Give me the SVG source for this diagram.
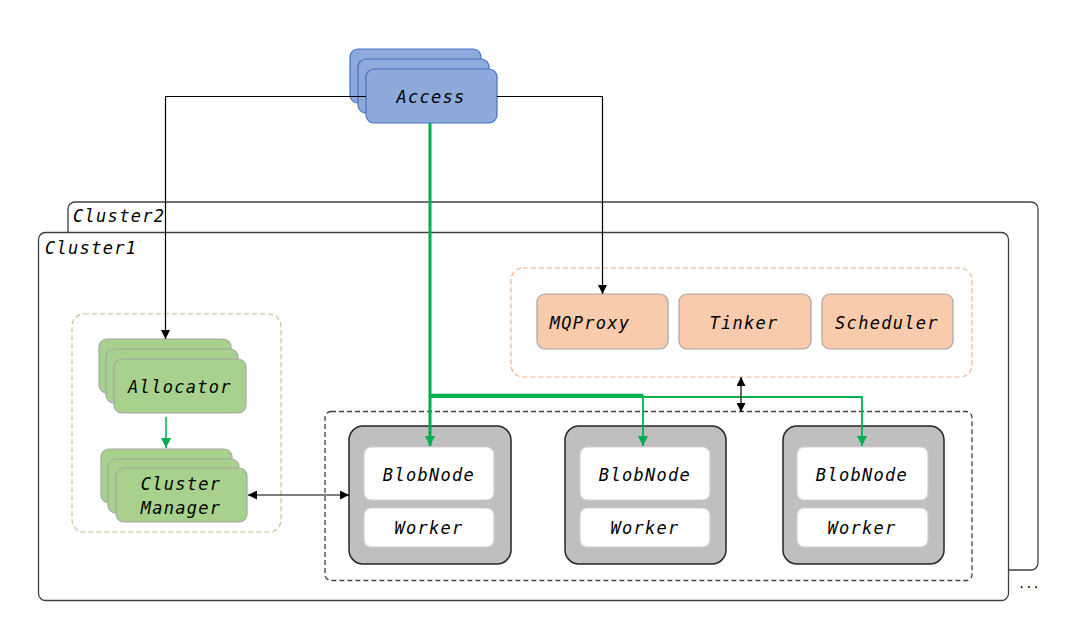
<svg xmlns="http://www.w3.org/2000/svg" width="1081" height="626" viewBox="0 0 1081 626">
<defs>
<marker id="ab" viewBox="0 0 10 10" refX="10" refY="5" markerWidth="9" markerHeight="9" markerUnits="userSpaceOnUse" orient="auto-start-reverse"><path d="M0,0 L10,5 L0,10 z" fill="#000"/></marker>
<marker id="ag" viewBox="0 0 10 10" refX="10" refY="5" markerWidth="10" markerHeight="10" markerUnits="userSpaceOnUse" orient="auto"><path d="M0,0 L10,5 L0,10 z" fill="#00B050"/></marker>
<style>
text{font-family:"DejaVu Sans Mono","Liberation Mono",monospace;font-style:italic;font-size:17px;fill:#000;letter-spacing:1.3px}
.c{text-anchor:middle}
.blue{fill:#8EA9DB;stroke:#4472C4;stroke-width:1.2}
.grn{fill:#A9D18E;stroke:#A6A6A6;stroke-width:1.2}
.org{fill:#F8CBAD;stroke:#A6A6A6;stroke-width:1.2}
.bn{fill:#BFBFBF;stroke:#262626;stroke-width:1.5}
.wh{fill:#fff;stroke:#D0D0D0;stroke-width:1.2}
.cl{fill:#fff;stroke:#404040;stroke-width:1.3}
.blk{fill:none;stroke:#000;stroke-width:1.2}
.gl{fill:none;stroke:#00B050}
</style>
</defs>
<rect width="1081" height="626" fill="#fff"/>
<g id="cluster2"><rect class="cl" x="68" y="202" width="970" height="368" rx="7"/><text x="73" y="222">Cluster2</text></g>
<g id="cluster1"><rect class="cl" x="38.5" y="232.5" width="970" height="368" rx="7"/><text x="45" y="254">Cluster1</text></g>
<g id="meta-group"><rect x="72" y="314" width="209" height="218" rx="12" fill="none" stroke="#A9D18E" stroke-width="1.2" stroke-dasharray="5,3"/></g>
<g id="allocator"><rect class="grn" x="99" y="339" width="132" height="54" rx="8"/><rect class="grn" x="106" y="349" width="132" height="54" rx="8"/><rect class="grn" x="114" y="359" width="132" height="54" rx="8"/><text class="c" x="180" y="393">Allocator</text></g>
<g id="cluster-manager"><rect class="grn" x="101" y="449" width="131" height="54" rx="8"/><rect class="grn" x="108" y="459" width="131" height="54" rx="8"/><rect class="grn" x="116" y="468" width="131" height="54" rx="8"/><text class="c" x="181" y="490">Cluster</text><text class="c" x="181" y="514">Manager</text></g>
<g id="service-group"><rect x="511" y="268" width="461" height="109" rx="12" fill="none" stroke="#F4B183" stroke-width="1.2" stroke-dasharray="5,3"/></g>
<g id="mqproxy"><rect class="org" x="537" y="294" width="131" height="55" rx="8"/><text class="c" x="590" y="329">MQProxy</text></g>
<g id="tinker"><rect class="org" x="679" y="294" width="132" height="55" rx="8"/><text class="c" x="744" y="329">Tinker</text></g>
<g id="scheduler"><rect class="org" x="822" y="294" width="131" height="55" rx="8"/><text class="c" x="887" y="329">Scheduler</text></g>
<g id="node-group"><rect x="325" y="411.5" width="647" height="169" rx="6" fill="none" stroke="#404040" stroke-width="1.3" stroke-dasharray="5,3"/></g>
<g id="node1"><rect class="bn" x="349" y="426" width="162" height="138" rx="14"/><rect class="wh" x="364" y="447" width="130" height="53" rx="7"/><rect class="wh" x="364" y="508" width="130" height="39" rx="7"/><text class="c" x="429" y="481">BlobNode</text><text class="c" x="429" y="534">Worker</text></g>
<g id="node2"><rect class="bn" x="565" y="426" width="161" height="138" rx="14"/><rect class="wh" x="580" y="447" width="130" height="53" rx="7"/><rect class="wh" x="580" y="508" width="130" height="39" rx="7"/><text class="c" x="645" y="481">BlobNode</text><text class="c" x="645" y="534">Worker</text></g>
<g id="node3"><rect class="bn" x="783" y="426" width="161" height="138" rx="14"/><rect class="wh" x="797" y="447" width="131" height="53" rx="7"/><rect class="wh" x="797" y="508" width="131" height="39" rx="7"/><text class="c" x="862" y="481">BlobNode</text><text class="c" x="862" y="534">Worker</text></g>
<g id="access"><rect class="blue" x="350" y="49" width="131" height="54" rx="8"/><rect class="blue" x="358" y="59" width="131" height="54" rx="8"/><rect class="blue" x="366" y="69" width="131" height="54" rx="8"/><text class="c" x="431" y="103">Access</text></g>
<g id="connectors">
<path class="blk" d="M366,96.5 H165.5 V339" marker-end="url(#ab)"/>
<path class="blk" d="M497,96.5 H602.5 V294" marker-end="url(#ab)"/>
<path class="gl" stroke-width="3" d="M430,123 V446" marker-end="url(#ag)"/>
<path class="gl" stroke-width="2.5" d="M430,395 H643"/>
<path class="gl" stroke-width="1.8" d="M643,395 V446" marker-end="url(#ag)"/>
<path class="gl" stroke-width="1.8" d="M430,397 H862 V446" marker-end="url(#ag)"/>
<path class="gl" stroke-width="1.5" d="M166,417 V448" marker-end="url(#ag)"/>
<path class="blk" d="M248,495 H349" marker-start="url(#ab)" marker-end="url(#ab)"/>
<path class="blk" d="M741,377 V412" marker-start="url(#ab)" marker-end="url(#ab)"/>
</g>
<text x="1018" y="588" style="font-size:12px;font-style:normal;letter-spacing:0">...</text>
</svg>
